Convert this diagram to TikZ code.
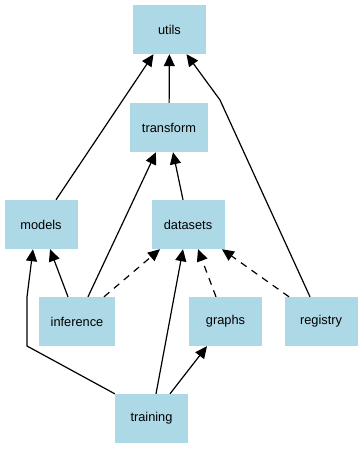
\documentclass[tikz,border=0pt]{standalone}
\usepackage{fontspec}
\setmainfont{Liberation Sans}
\usepackage{tikz}
\usetikzlibrary{arrows.meta, positioning}
\usepackage{xcolor}
\definecolor{azulclaro}{RGB}{173, 216, 230}

\begin{document}
\begin{tikzpicture}[
    x=1pt, y=-1pt,
    modulo/.style={
        fill=azulclaro,
        minimum width=73pt,
        minimum height=49pt,
        inner xsep=12pt,
        inner ysep=0pt,
        align=center,
        font=\fontsize{12.8}{15}\selectfont
    },
    seta/.style={
        -{Triangle[length=12pt, width=11pt]},
        line width=1.2pt
    },
    setaopc/.style={
        seta,
        dash pattern=on 7pt off 6pt
    }
]

\useasboundingbox (0,0) rectangle (363,449);

% =================================================
% MODULOS
% =================================================

\node[modulo] (utils) at (169.5,29.5)
{utils};

\node[modulo] (transform) at (169,127.5)
{transform};

\node[modulo] (models) at (41,224.5)
{models};

\node[modulo] (datasets) at (188,224.5)
{datasets};

\node[modulo] (inference) at (77,321.5)
{inference};

\node[modulo] (graphs) at (225.5,321.5)
{graphs};

\node[modulo] (registry) at (321,321.5)
{registry};

\node[modulo] (training) at (151.5,418.5)
{training};

% =================================================
% DEPENDENCIAS
% =================================================

\draw[seta] ([xshift=15]models.north) -- ([xshift=-16]utils.south);
\draw[seta] (transform) -- (utils);
\draw[seta] ([xshift=-11]registry.north) -- (220,100)
    -- ([xshift=17]utils.south);

\draw[seta] ([xshift=-5]datasets.north) -- ([xshift=4]transform.south);
\draw[seta] ([xshift=11]inference.north) -- ([xshift=-13]transform.south);

\draw[seta] ([xshift=-9]inference.north) -- ([xshift=9]models.south);
\draw[seta] (training.north west) -- (27,346) -- (27,297)
    -- ([xshift=-8]models.south);

\draw[setaopc] ([xshift=27]inference.north) -- ([xshift=-28]datasets.south);
\draw[setaopc] ([xshift=-9.5]graphs.north) -- ([xshift=10]datasets.south);
\draw[setaopc] ([xshift=-32]registry.north) -- ([xshift=34]datasets.south);

\draw[seta] ([xshift=4.5]training.north) -- ([xshift=-5]datasets.south);
\draw[seta] ([xshift=18.5]training.north) -- ([xshift=-18.5]graphs.south);

\end{tikzpicture}
\end{document}
